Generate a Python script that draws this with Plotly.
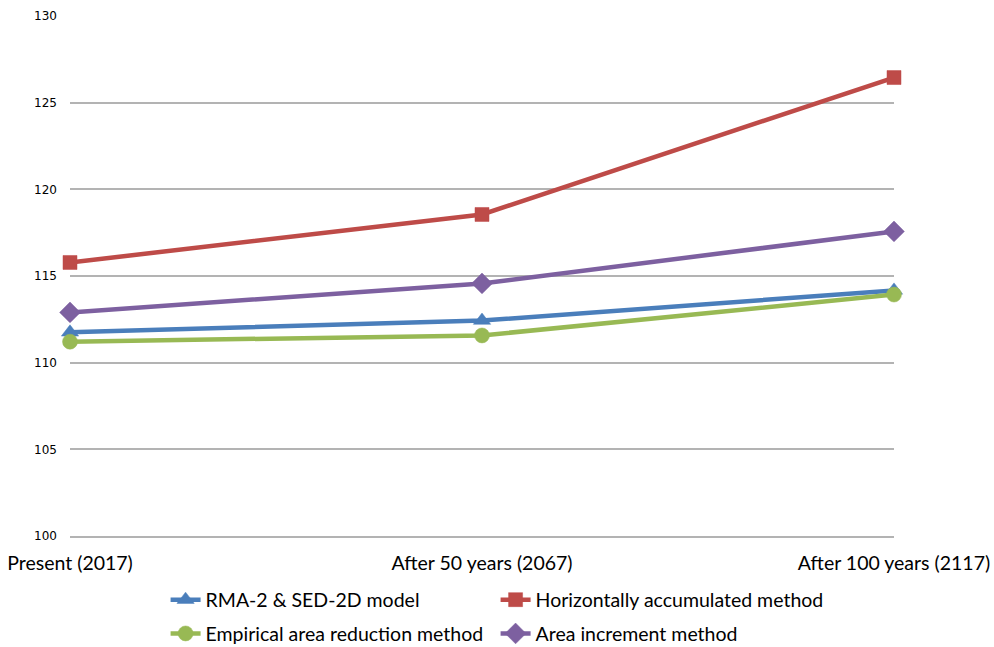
import plotly.graph_objects as go

# Sediment comparison across time horizons
periods = ["Present (2017)", "After 50 years (2067)", "After 100 years (2117)"]
rma_sed = [111.75, 112.43, 114.17]
horizontal = [115.78, 118.55, 126.45]
empirical = [111.21, 111.57, 113.93]
increment = [112.90, 114.57, 117.57]

x_pos = [0, 1, 2]

series = [
    ("RMA-2 & SED-2D model", rma_sed, "#4A7EBB", "triangle-up", 15, "legend"),
    ("Horizontally accumulated method", horizontal, "#BE4B48", "square", 14, "legend"),
    ("Empirical area reduction method", empirical, "#98B954", "circle", 15, "legend2"),
    ("Area increment method", increment, "#7D60A0", "diamond", 16, "legend2"),
]

fig = go.Figure()
for name, vals, color, sym, size, leg in series:
    fig.add_trace(go.Scatter(
        x=x_pos, y=vals, name=name, mode="lines+markers",
        line=dict(color=color, width=4.5),
        marker=dict(symbol=sym, size=size, color=color,
                    line=dict(color=color, width=0.5)),
        legend=leg, cliponaxis=False,
    ))

text_family = "Lato, Carlito, Calibri, sans-serif"
legend_font = dict(family=text_family, size=19.5, color="#000000")
common_legend = dict(orientation="h", entrywidth=285, entrywidthmode="pixels",
                     xanchor="left", yanchor="middle", font=legend_font,
                     bgcolor="rgba(0,0,0,0)", traceorder="normal",
                     itemwidth=30, tracegroupgap=0)

fig.update_layout(
    width=994, height=647,
    margin=dict(l=70, r=100, t=16, b=111, autoexpand=False),
    paper_bgcolor="white", plot_bgcolor="white",
    showlegend=True,
    legend=dict(x=0.116, y=-0.123, **common_legend),
    legend2=dict(x=0.116, y=-0.188, **common_legend),
    xaxis=dict(
        range=[0, 2], tickvals=x_pos, ticktext=periods,
        showgrid=False, zeroline=False,
        showline=True, linecolor="#B3B3B3", linewidth=1.5,
        tickfont=dict(family=text_family, size=19.5, color="#000000"),
        ticks="", ticklabelstandoff=9, automargin=False,
    ),
    yaxis=dict(
        range=[100, 130], dtick=5, tick0=100,
        showgrid=True, gridcolor="#B3B3B3", gridwidth=1.5,
        zeroline=False, showline=False, ticks="",
        tickfont=dict(family="DejaVu Sans, Verdana, sans-serif", size=12, color="#000000"),
        ticklabelstandoff=12, automargin=False,
    ),
)

fig.write_html("out.html")
